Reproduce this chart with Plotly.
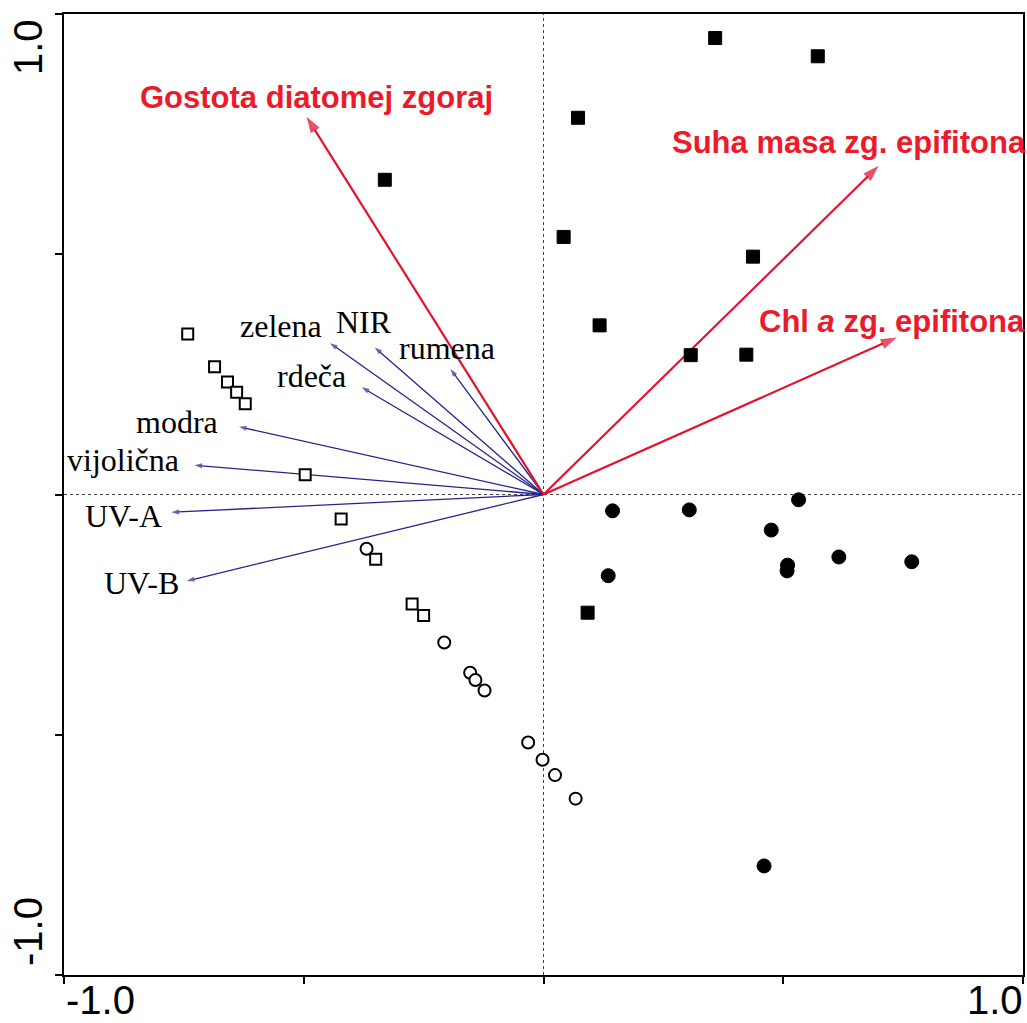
import plotly.graph_objects as go

# ---------------- data ----------------
# sample scores (site groups)
filled_sq_x = [0.358, 0.572, 0.072, -0.331, 0.042, 0.437, 0.117, 0.307, 0.423, 0.092]
filled_sq_y = [0.950, 0.912, 0.784, 0.655, 0.536, 0.495, 0.352, 0.290, 0.291, -0.246]

filled_ci_x = [0.144, 0.304, 0.532, 0.475, 0.509, 0.508, 0.616, 0.768, 0.135, 0.460]
filled_ci_y = [-0.034, -0.032, -0.011, -0.074, -0.147, -0.159, -0.130, -0.140, -0.169, -0.773]

open_ci_x = [-0.369, -0.207, -0.153, -0.142, -0.123, -0.032, -0.002, 0.024, 0.067]
open_ci_y = [-0.113, -0.308, -0.371, -0.386, -0.408, -0.516, -0.552, -0.584, -0.633]

open_sq_x = [-0.742, -0.686, -0.659, -0.640, -0.622, -0.497, -0.422, -0.350, -0.274, -0.250]
open_sq_y = [0.334, 0.266, 0.234, 0.213, 0.189, 0.041, -0.051, -0.135, -0.228, -0.252]

# explanatory variables (blue arrows)
env_names = ["zelena", "NIR", "rumena", "rdeča", "modra", "vijolična", "UV-A", "UV-B"]
env_x = [-0.445, -0.352, -0.194, -0.379, -0.635, -0.728, -0.776, -0.744]
env_y = [0.315, 0.306, 0.261, 0.223, 0.141, 0.061, -0.037, -0.180]

# response variables (red arrows)
resp_names = ["Gostota diatomej zgoraj", "Suha masa zg. epifitona", "Chl <i>a</i> zg. epifitona"]
resp_x = [-0.494, 0.699, 0.737]
resp_y = [0.786, 0.684, 0.327]

# axis ticks
tick_vals = [-1.0, -0.5, 0.0, 0.5, 1.0]
tick_labels = ["-1.0", "1.0"]

# ---------------- style ----------------
BLUE = "#23238e"
RED = "#e4122c"
RED_TXT = "#ec1b2b"
SERIF = "Liberation Serif, Times New Roman, serif"
SANS = "Liberation Sans, Arial, sans-serif"

# label offsets in pixels relative to the arrow tip (dx right, dy up)
env_label_shift = [(-49, 17), (-11, 25), (-3, 21), (-50, 11), (-62, 5), (-71, 5), (-48, -4), (-45, -2)]
resp_label_shift = [(10, 19), (-30, 23), (-5, 16)]

fig = go.Figure()

# blue arrows
for tx, ty in zip(env_x, env_y):
    fig.add_trace(go.Scatter(
        x=[0, tx], y=[0, ty], mode="lines+markers",
        line=dict(color=BLUE, width=1.3),
        marker=dict(symbol="arrow", size=[0, 8], angleref="previous",
                    color=BLUE, line=dict(width=0)),
        hoverinfo="skip", showlegend=False))

# red arrows
for tx, ty in zip(resp_x, resp_y):
    fig.add_trace(go.Scatter(
        x=[0, tx], y=[0, ty], mode="lines+markers",
        line=dict(color=RED, width=2.2),
        marker=dict(symbol="arrow", size=[0, 17], angleref="previous",
                    color="#dc0a26", line=dict(width=0)),
        hoverinfo="skip", showlegend=False))

# sample points
fig.add_trace(go.Scatter(x=open_sq_x, y=open_sq_y, mode="markers",
                         marker=dict(symbol="square", size=11, color="white",
                                     line=dict(color="black", width=2)),
                         showlegend=False))
fig.add_trace(go.Scatter(x=open_ci_x, y=open_ci_y, mode="markers",
                         marker=dict(symbol="circle", size=12, color="white",
                                     line=dict(color="black", width=2)),
                         showlegend=False))
fig.add_trace(go.Scatter(x=filled_sq_x, y=filled_sq_y, mode="markers",
                         marker=dict(symbol="square", size=13, color="black",
                                     line=dict(color="black", width=1)),
                         showlegend=False))
fig.add_trace(go.Scatter(x=filled_ci_x, y=filled_ci_y, mode="markers",
                         marker=dict(symbol="circle", size=14, color="black",
                                     line=dict(color="black", width=1)),
                         showlegend=False))

annotations = []
for name, tx, ty, (dx, dy) in zip(env_names, env_x, env_y, env_label_shift):
    annotations.append(dict(x=tx, y=ty, xref="x", yref="y", text=name, showarrow=False,
                            xshift=dx, yshift=dy, xanchor="center", yanchor="middle",
                            font=dict(family=SERIF, size=32, color="black")))
for name, tx, ty, (dx, dy) in zip(resp_names, resp_x, resp_y, resp_label_shift):
    annotations.append(dict(x=tx, y=ty, xref="x", yref="y", text="<b>" + name + "</b>",
                            showarrow=False, xshift=dx, yshift=dy,
                            xanchor="center", yanchor="middle",
                            font=dict(family=SANS, size=31, color=RED_TXT)))

# axis end labels
TICKFONT = dict(family=SANS, size=40, color="black")
annotations += [
    dict(x=tick_vals[0], y=0, xref="x", yref="paper", text=tick_labels[0], showarrow=False,
         xanchor="left", yanchor="middle", yshift=-25, font=TICKFONT),
    dict(x=tick_vals[-1], y=0, xref="x", yref="paper", text=tick_labels[1], showarrow=False,
         xanchor="right", yanchor="middle", yshift=-25, xshift=2, font=TICKFONT),
    dict(x=0, y=tick_vals[-1], xref="paper", yref="y", text=tick_labels[1], showarrow=False,
         xanchor="center", yanchor="middle", textangle=-90, xshift=-36, yshift=-33,
         font=TICKFONT),
    dict(x=0, y=tick_vals[0], xref="paper", yref="y", text=tick_labels[0], showarrow=False,
         xanchor="center", yanchor="middle", textangle=-90, xshift=-36, yshift=43,
         font=TICKFONT),
]

shapes = [
    dict(type="line", xref="x", yref="paper", x0=0, x1=0, y0=0, y1=1,
         line=dict(color="#444444", width=1, dash="dot"), layer="below"),
    dict(type="line", xref="paper", yref="y", x0=0, x1=1, y0=0, y1=0,
         line=dict(color="#444444", width=1, dash="dot"), layer="below"),
]

axis_common = dict(range=[-1, 1], showgrid=False, zeroline=False, showline=True,
                   mirror=True, linecolor="black", linewidth=2,
                   ticks="outside", ticklen=7, tickwidth=2, tickcolor="black",
                   tickvals=tick_vals, showticklabels=False, fixedrange=True)

fig.update_layout(
    width=1027, height=1023, autosize=False,
    margin=dict(l=64, r=2, t=14, b=48),
    paper_bgcolor="white", plot_bgcolor="white",
    xaxis=axis_common, yaxis=axis_common,
    annotations=annotations, shapes=shapes,
    showlegend=False,
)

fig.write_html("out.html")
